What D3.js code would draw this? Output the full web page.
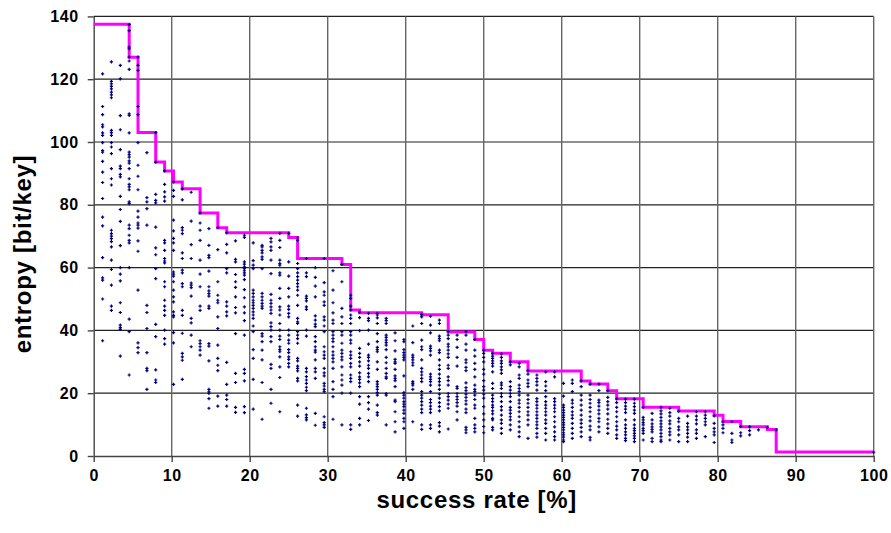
<!DOCTYPE html>
<html>
<head>
<meta charset="utf-8">
<script src="https://cdn.jsdelivr.net/npm/d3@7"></script>
<style>
  html, body { margin: 0; padding: 0; background: #fff; }
  #graphic { width: 891px; height: 533px; }
  text { font-family: "Liberation Sans", Arial, sans-serif; font-weight: 700; }
</style>
</head>
<body>
<div id="graphic"></div>
<script>
// success rate (%) of each column of measurements
const colRate = [
  1.14, 2.27, 3.41, 4.55, 5.68, 6.82, 7.95, 9.09, 10.23, 11.36,
  12.5, 13.64, 14.77, 15.91, 17.05, 18.18, 19.32, 20.45, 21.59, 22.73,
  23.86, 25.0, 26.14, 27.27, 28.41, 29.55, 30.68, 31.82, 32.95, 34.09,
  35.23, 36.36, 37.5, 38.64, 39.77, 40.91, 42.05, 43.18, 44.32, 45.45,
  46.59, 47.73, 48.86, 50.0, 51.14, 52.27, 53.41, 54.55, 55.68, 56.82,
  57.95, 59.09, 60.23, 61.36, 62.5, 63.64, 64.77, 65.91, 67.05, 68.18,
  69.32, 70.45, 71.59, 72.73, 73.86, 75.0, 76.14, 77.27, 78.41, 79.55,
  80.68, 81.82, 82.95, 84.09, 85.23, 86.36, 87.5, 100
];

// entropy values (bit/key) found in each column, same order as colRate
const colEntropy = [
  [121.7,111.3,108.7,105.5,104.8,102.9,102.1,99.8,97.3,96.8,93.8,90.4,87.1,82.0,76.1,73.3,63.2,56.7,56.0,50.0,36.7],
  [125.5,119.3,118.5,117.7,116.9,115.9,115.0,114.1,103.7,103.0,102.1,99.8,98.4,96.3,91.5,88.3,86.3,71.9,70.8,70.0,69.2,68.3,66.6,62.4,59.4,54.4,47.7,46.4],
  [124.4,120.1,108.4,103.9,97.6,92.3,91.5,89.7,88.9,82.7,78.5,74.7,67.0,60.0,57.9,55.8,48.8,45.7,41.7,40.9,40.3,31.8],
  [137.4,135.5,130.2,129.7,127.0,125.8,123.1,109.0,108.5,102.9,96.8,96.0,95.2,94.0,93.3,91.5,88.3,86.5,85.7,84.8,80.9,80.4,73.5,72.4,70.3,68.7,67.9,60.0,43.6,39.6,25.8],
  [127.0,124.4,122.8,111.3,108.7,99.8,92.6,89.1,84.8,78.0,76.1,74.2,73.5,72.6,68.5,65.2,52.8,36.0,34.5,32.9],
  [96.6,82.3,80.9,78.8,73.5,48.0,45.7,40.6,32.9,27.9,27.2,21.2],
  [103.0,93.6,83.3,81.4,80.6,72.9,66.3,64.1,59.7,56.5,41.9,38.0,27.4,24.2,23.4],
  [90.8,86.5,84.1,82.5,81.2,68.7,67.9,65.5,62.9,62.1,61.5,55.5,53.9,49.6,47.7,46.4,44.8,40.1,37.4,35.6],
  [87.3,84.6,82.7,75.1,71.7,69.3,67.9,65.5,58.6,57.9,57.3,55.5,52.8,50.7,49.1,45.9,44.8,44.3,39.3,36.0,22.8],
  [85.1,81.6,72.7,71.9,70.8,64.7,62.9,59.2,58.3,54.9,53.9,46.4,44.8,39.1,32.7,31.6,30.5,24.4],
  [84.0,74.8,67.3,62.9,55.1,54.4,53.6,50.9,43.8,42.4,38.5,34.8],
  [77.4,74.2,71.9,68.7,62.4,57.9,53.9,47.7,46.4,36.7,35.8,34.8,33.7,32.1],
  [72.4,67.1,63.9,63.2,58.9,53.9,52.6,51.7,50.9,47.7,47.0,35.8,35.0,30.3,21.2,20.4,19.9,18.3,15.2],
  [72.7,65.7,55.5,51.2,49.6,48.8,44.3,40.6,35.3,31.1,28.9,27.2,19.1,15.9],
  [71.1,67.4,64.7,59.7,58.3,49.1,47.7,45.9,44.6,29.8,22.8,19.4,18.0,15.9],
  [68.5,62.6,61.8,57.8,55.5,53.7,50.7,47.3,45.6,39.0,26.3,23.4,15.5,13.9],
  [70.3,69.6,61.8,61.1,60.2,59.7,59.0,58.3,57.6,56.2,53.0,50.4,47.5,45.6,43.1,38.5,27.6,26.3,23.9,15.7,13.8],
  [67.9,62.2,60.8,59.7,52.8,51.8,50.7,49.6,48.8,48.0,47.0,45.9,44.9,43.8,41.4,39.6,33.9,31.1,24.4,14.9],
  [67.1,66.6,65.5,64.7,63.4,62.6,59.7,51.8,50.7,49.6,48.6,47.7,47.0,39.0,38.2,36.4,33.7,30.6,23.4,11.7],
  [69.3,68.2,66.6,65.5,62.4,58.1,51.5,49.6,48.6,47.5,46.5,45.4,42.4,41.2,40.1,38.0,36.4,29.2,27.9,21.2,16.8],
  [70.9,68.7,66.4,62.4,61.3,60.8,58.3,57.6,53.4,50.2,47.5,46.5,44.9,42.2,40.1,38.2,37.1,34.8,33.9,33.2,31.6,28.4,25.0,14.1],
  [70.9,61.8,57.3,53.4,50.7,47.7,46.7,45.4,44.3,40.1,38.5,36.9,35.9,33.9,32.9,31.6,30.8,29.5,28.4],
  [69.5,68.7,61.3,59.7,58.3,57.1,56.0,54.9,53.9,52.8,51.2,48.0,43.8,42.7,42.2,39.6,38.5,37.4,35.9,31.1,30.3,28.6,27.9,27.1,24.7,23.9,16.2,12.7],
  [62.9,58.3,57.1,50.9,50.2,49.4,47.5,46.7,40.1,38.2,27.9,26.8,25.3,24.2,23.1,21.9,20.8,15.2,13.1,12.2,11.5],
  [60.0,56.9,54.1,50.7,44.6,43.3,42.0,41.2,38.0,36.4,34.8,33.7,33.1,30.6,27.9,26.8,24.7,13.6,9.8],
  [62.9,55.2,52.3,51.2,49.1,48.0,44.3,43.3,41.4,39.6,34.8,33.2,32.1,31.1,27.9,26.5,25.5,23.1,22.3,21.2,20.5,12.5,10.6,9.9,9.1],
  [59.0,52.8,48.8,45.6,43.3,42.2,39.6,38.5,37.4,36.4,34.8,33.2,32.1,31.1,30.0,27.9,23.7,21.2,18.9,11.7],
  [61.0,55.5,47.0,44.3,42.2,39.6,38.5,35.9,33.7,32.7,31.6,30.6,28.4,25.8,24.2,22.6,20.0,9.9],
  [51.2,50.2,47.7,46.5,44.9,43.8,42.2,39.6,38.5,36.9,35.9,33.2,32.1,31.1,29.5,28.4,25.8,24.7,23.7,20.0,9.9,8.5],
  [45.8,44.1,39.9,34.3,32.7,31.4,30.0,28.6,26.5,25.2,24.4,23.3,22.1,18.9,16.5,12.0,9.9],
  [45.4,43.8,43.1,40.1,35.6,32.1,31.4,30.3,28.9,27.9,26.3,25.2,23.7,18.9,17.0,14.9,11.3],
  [45.4,44.9,44.0,42.2,39.0,36.4,34.6,33.9,33.2,30.0,27.6,23.7,22.9,22.1,21.2,20.2,19.4,16.2,13.8,13.0],
  [43.8,43.1,42.2,38.5,37.8,36.9,36.1,35.3,33.9,31.4,29.7,27.9,26.3,25.2,24.7,19.9,19.4,9.9],
  [39.2,36.7,33.5,30.8,30.0,29.5,27.6,25.5,24.7,24.0,22.1,17.8,17.3,14.1,10.9,7.7],
  [37.1,36.4,33.9,32.9,32.1,31.4,30.6,25.5,20.2,19.4,18.4,17.3,16.5,15.7,14.6,13.6,12.0,10.9,8.8],
  [41.4,36.1,32.1,31.4,30.6,29.7,28.9,23.7,23.1,22.6,21.2,10.9],
  [45.1,44.3,42.2,36.9,34.8,33.9,30.6,27.9,26.8,25.8,24.7,23.7,20.5,19.4,18.4,17.3,16.2,14.9,13.8,9.9,8.5],
  [44.5,41.7,39.2,35.0,34.3,33.5,32.1,26.1,25.2,24.4,23.7,22.6,20.5,18.0,17.0,15.9,14.9,13.8,9.9,8.8],
  [43.3,42.2,38.2,37.4,36.7,33.7,32.9,30.6,28.9,27.6,26.1,24.7,23.7,22.6,21.2,19.7,18.4,17.0,15.7,14.4,10.6,9.5,7.7],
  [39.6,38.5,37.4,35.6,34.8,33.7,32.5,31.4,28.9,27.9,25.2,24.0,22.6,19.9,18.9,17.8,16.5,15.2,8.6],
  [38.5,37.1,34.6,31.4,28.6,22.1,21.5,19.9,18.9,18.0,17.0,15.9,14.1,11.5],
  [39.6,38.5,35.6,33.7,30.6,29.7,28.2,27.2,23.3,21.8,20.8,19.7,18.7,17.6,16.5,14.9,13.8,9.1,8.3,7.4],
  [37.1,33.7,31.8,29.5,27.6,25.2,22.6,21.2,20.5,19.4,18.0,16.2,15.2,12.0,9.9,8.8,7.7],
  [33.7,32.7,31.4,30.0,27.6,26.1,24.0,22.1,21.0,19.7,18.4,15.7,13.4,11.5,9.4,7.4],
  [32.7,31.8,31.1,30.3,29.5,28.6,26.8,23.1,21.5,19.4,18.3,17.3,16.2,15.5,14.4,13.4,12.0,11.5,9.1,8.3],
  [32.5,31.4,30.3,29.5,28.4,27.4,26.3,23.3,22.6,21.5,19.9,18.9,17.3,15.7,14.6,13.0,11.5,10.4,8.8,7.2],
  [30.0,29.0,23.7,22.1,21.0,19.9,18.9,17.3,15.5,14.6,13.6,12.5,11.5,9.9,8.3],
  [29.5,28.4,25.8,24.7,22.6,21.5,20.5,19.4,17.8,16.8,15.5,14.1,12.5,10.9,9.3,7.7,6.2],
  [27.2,26.1,24.2,23.1,22.1,19.4,18.0,16.8,15.5,14.1,13.0,11.5,9.9,5.6],
  [25.8,24.7,23.7,22.6,21.0,18.3,17.3,16.2,15.2,14.1,13.0,12.0,10.9,9.9,8.8,7.2,6.0],
  [26.8,23.7,22.3,20.8,18.9,17.3,16.2,15.2,14.1,13.0,11.5,10.4,8.8,7.2,5.1],
  [26.8,25.2,18.3,17.3,16.2,15.2,14.1,12.5,10.9,9.3,7.7,6.2,5.1],
  [23.1,19.1,16.2,15.5,14.6,13.8,13.0,12.3,11.5,10.6,9.9,9.1,8.3,7.4,6.7,6.0,5.1,4.6],
  [24.2,23.1,20.5,17.8,16.8,15.5,14.1,13.0,12.0,10.4,8.8,7.2,5.6],
  [23.9,22.1,19.4,17.8,16.2,14.6,13.0,11.5,10.4,9.1,7.7,6.2],
  [22.9,19.4,18.0,16.8,15.5,14.1,12.5,11.2,9.5,8.3,5.9,5.1],
  [22.9,20.8,17.8,17.0,15.9,14.6,13.4,12.0,10.9,9.3,7.7],
  [20.8,18.7,17.3,16.2,14.9,13.4,11.7,10.2,8.8,7.2],
  [18.2,17.0,15.5,14.1,12.5,10.9,9.5,8.3,6.7,5.6],
  [18.1,17.0,15.9,14.9,13.8,11.5,9.9,8.8,7.7,6.7,5.6,4.9],
  [18.1,16.8,15.7,14.6,13.6,11.5,9.9,8.8,8.1,7.2,6.4,5.6,4.6],
  [15.5,12.3,11.5,10.6,9.9,8.8,8.1,7.2,5.1],
  [13.6,11.5,10.2,9.3,8.5,7.7,5.6,4.6],
  [15.5,14.4,13.4,12.3,11.2,10.2,9.3,8.3,7.2,6.2,5.1,4.6],
  [15.2,13.8,12.7,11.2,10.2,8.8,7.7,6.7,5.1],
  [14.3,12.0,10.9,9.3,8.3,6.7,4.6],
  [12.7,10.4,9.3,8.3,7.2,6.0,4.6],
  [14.1,12.7,11.5,10.2,8.3,7.2,5.6],
  [14.1,13.0,12.0,10.9,9.9,6.2],
  [12.8,10.4,8.8,7.7,6.7,4.3],
  [10.9,9.9,8.8,7.4],
  [10.9,7.2,5.1,4.3],
  [9.4,7.4,6.4],
  [9.3,8.1,6.7],
  [8.3],
  [9.1],
  [8.3],
  [1.2]
];

// upper envelope (magenta step line): level holds from each rate to the next
const stepRate  = [0, 4.55, 5.68, 7.95, 9.09, 10.23, 11.36, 13.64, 15.91, 17.05, 25.0, 26.14, 31.82, 32.95, 34.09, 42.05, 45.45, 48.86, 50.0, 51.14, 53.41, 55.68, 62.5, 63.64, 65.91, 67.05, 70.45, 75.0, 79.55, 80.68, 82.95, 86.36, 87.5, 100];
const stepLevel = [137.5, 127, 103, 93.6, 90.8, 87.3, 85.1, 77.4, 72.7, 71.1, 69.6, 62.9, 61.0, 46.5, 45.6, 45.0, 39.5, 37.1, 33.7, 32.7, 30.0, 27.1, 23.9, 22.9, 20.8, 18.2, 15.5, 14.3, 13.0, 11.0, 9.3, 8.4, 1.3, 1.3];

const xTicks = [0, 10, 20, 30, 40, 50, 60, 70, 80, 90, 100];
const yTicks = [0, 20, 40, 60, 80, 100, 120, 140];

const width = 891;
const height = 533;
const margin = { top: 16.4, right: 17.3, bottom: 77, left: 93.7 };
const innerW = width - margin.left - margin.right;
const innerH = height - margin.top - margin.bottom;

const svg = d3.select("#graphic").append("svg")
  .attr("width", width)
  .attr("height", height)
  .style("display", "block");

const g = svg.append("g")
  .attr("transform", `translate(${margin.left},${margin.top})`);

const x = d3.scaleLinear().domain([0, 100]).range([0, innerW]);
const y = d3.scaleLinear().domain([0, 140]).range([innerH, 0]);

// grid
g.append("g")
  .selectAll("line")
  .data(yTicks.filter(d => d > 0))
  .join("line")
  .attr("x1", 0).attr("x2", innerW)
  .attr("y1", d => y(d)).attr("y2", d => y(d))
  .attr("stroke", "#222").attr("stroke-width", 1.2);

g.append("g")
  .selectAll("line")
  .data(xTicks.filter(d => d > 0))
  .join("line")
  .attr("y1", 0).attr("y2", innerH)
  .attr("x1", d => x(d)).attr("x2", d => x(d))
  .attr("stroke", "#666").attr("stroke-width", 1.4);

// axes
const gx = g.append("g")
  .attr("transform", `translate(0,${innerH})`)
  .call(d3.axisBottom(x).tickValues(xTicks).tickSize(6).tickSizeOuter(0).tickPadding(8));

const gy = g.append("g")
  .call(d3.axisLeft(y).tickValues(yTicks).tickSize(6).tickSizeOuter(0).tickPadding(9));

[gx, gy].forEach(a => {
  a.select(".domain").attr("stroke", "#444").attr("stroke-width", 1.4);
  a.selectAll(".tick line").attr("stroke", "#444").attr("stroke-width", 1.4);
  a.selectAll(".tick text")
    .attr("fill", "#000")
    .attr("font-size", 16)
    .attr("font-weight", 700)
    .attr("font-family", "'Liberation Sans', Arial, sans-serif")
    .style("letter-spacing", "0.6px");
});

// envelope
const env = stepRate.map((r, i) => ({ r, v: stepLevel[i] }));
g.append("path")
  .datum(env)
  .attr("fill", "none")
  .attr("stroke", "#ff00ff")
  .attr("stroke-width", 3)
  .attr("d", d3.line().x(d => x(d.r)).y(d => y(d.v)).curve(d3.curveStepAfter));

// measurement points
const pts = [];
colRate.forEach((r, i) => colEntropy[i].forEach(v => pts.push({ r, v })));

g.append("g")
  .selectAll("path")
  .data(pts)
  .join("path")
  .attr("transform", d => `translate(${x(d.r)},${y(d.v)})`)
  .attr("d", "M-1.6,0H1.6M0,-1.6V1.6")
  .attr("stroke", "#000080")
  .attr("stroke-width", 1.2);

// axis titles
svg.append("text")
  .attr("x", margin.left + innerW / 2 - 7)
  .attr("y", 508)
  .attr("text-anchor", "middle")
  .attr("font-size", 24)
  .style("letter-spacing", "0.7px")
  .text("success rate [%]");

svg.append("text")
  .attr("transform", "translate(31,254) rotate(-90)")
  .attr("text-anchor", "middle")
  .attr("font-size", 24)
  .style("letter-spacing", "0.7px")
  .text("entropy [bit/key]");
</script>
</body>
</html>
